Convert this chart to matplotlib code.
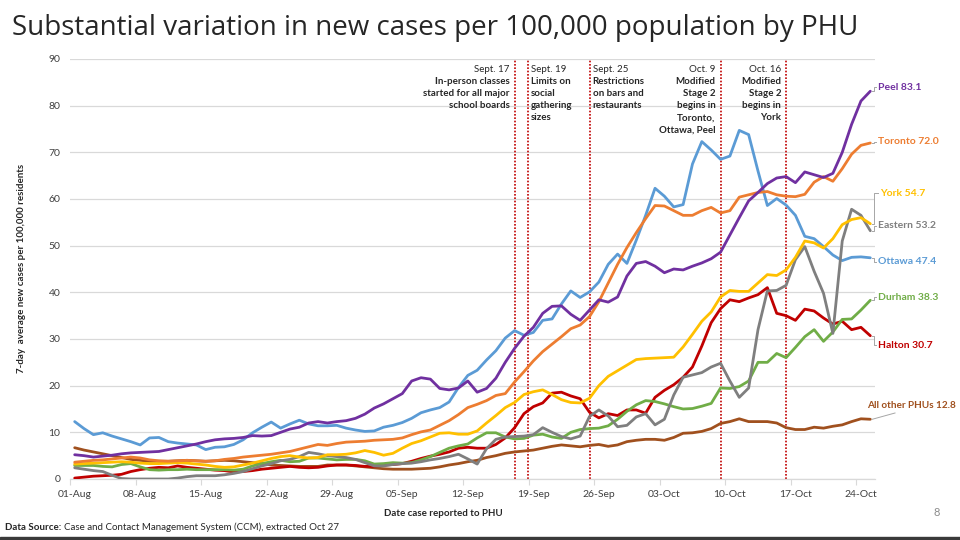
import numpy as np
import matplotlib
matplotlib.use("Agg")
import matplotlib.pyplot as plt
from matplotlib.lines import Line2D
from matplotlib.patches import Rectangle

# ---------------- data ----------------
# day index 0 = 01-Aug ... 85 = 25-Oct (daily 7-day averages)
tick_labels = ["01-Aug", "08-Aug", "15-Aug", "22-Aug", "29-Aug", "05-Sep", "12-Sep",
               "19-Sep", "26-Sep", "03-Oct", "10-Oct", "17-Oct", "24-Oct"]
tick_days = [0, 7, 14, 21, 28, 35, 42, 49, 56, 63, 70, 77, 84]

peel = [5.2, 5.0, 4.7, 4.9, 5.1, 5.4, 5.6, 5.7, 5.8, 5.9, 6.3, 6.7, 7.1, 7.5, 8.0, 8.4,
        8.6, 8.7, 8.9, 9.3, 9.2, 9.3, 10.0, 10.7, 11.1, 12.0, 12.3, 12.0, 12.3, 12.5, 13.0,
        13.9, 15.2, 16.1, 17.2, 18.3, 21.0, 21.7, 21.4, 19.4, 19.1, 19.5, 21.0, 18.6, 19.4,
        21.6, 25.0, 28.0, 30.6, 32.5, 35.5, 37.0, 37.1, 35.3, 34.0, 36.2, 38.4, 37.9, 39.0,
        43.5, 46.2, 46.6, 45.6, 44.2, 45.0, 44.8, 45.6, 46.3, 47.2, 48.6, 52.3, 56.0, 59.6,
        61.4, 63.3, 64.5, 64.8, 63.5, 65.8, 65.2, 64.6, 65.5, 70.0, 76.0, 81.0, 83.1]
toronto = [3.6, 3.8, 4.0, 4.1, 4.3, 4.5, 4.7, 4.5, 4.1, 3.9, 3.8, 3.9, 4.0, 3.9, 3.8, 3.9,
           4.2, 4.4, 4.7, 4.9, 5.1, 5.3, 5.6, 5.9, 6.4, 6.9, 7.4, 7.2, 7.6, 7.9, 8.0, 8.1,
           8.3, 8.4, 8.5, 8.8, 9.5, 10.1, 10.5, 11.5, 12.5, 13.8, 15.3, 16.0, 16.8, 17.9,
           18.3, 20.8, 23.0, 25.3, 27.3, 28.9, 30.5, 32.2, 33.0, 34.8, 38.0, 42.0, 46.0,
           49.6, 52.8, 55.8, 58.6, 58.5, 57.5, 56.5, 56.5, 57.5, 58.2, 57.0, 57.5, 60.4,
           60.9, 61.4, 61.6, 60.9, 60.6, 60.5, 61.0, 63.6, 64.8, 63.8, 66.5, 69.6, 71.5, 72.0]
york = [3.2, 3.3, 3.4, 3.5, 3.6, 3.7, 3.6, 3.4, 3.3, 3.3, 3.4, 3.5, 3.4, 3.2, 3.0, 2.7,
        2.5, 2.6, 3.0, 3.4, 3.9, 4.4, 4.8, 5.0, 4.7, 4.5, 4.6, 5.2, 5.2, 5.3, 5.6, 6.1,
        5.7, 5.1, 5.5, 6.6, 7.6, 8.2, 9.0, 9.8, 9.9, 9.6, 9.6, 10.3, 12.0, 13.6, 15.3,
        16.4, 18.1, 18.7, 19.1, 18.1, 17.0, 16.4, 16.3, 17.3, 20.0, 22.0, 23.2, 24.4,
        25.6, 25.8, 25.9, 26.0, 26.1, 28.3, 31.0, 33.8, 35.8, 39.0, 40.4, 40.2, 40.2,
        42.0, 43.8, 43.6, 44.8, 47.5, 51.0, 50.6, 49.5, 51.5, 54.5, 55.6, 56.0, 54.7]
eastern = [2.4, 2.1, 1.8, 1.6, 0.8, 0.1, 0.0, 0.0, 0.0, 0.0, 0.0, 0.2, 0.5, 0.7, 0.7, 0.7,
           0.9, 1.2, 1.6, 2.2, 2.8, 3.3, 3.9, 4.2, 4.8, 5.7, 5.4, 5.0, 4.8, 4.6, 4.2, 3.5,
           2.8, 2.8, 3.1, 3.3, 3.4, 3.7, 4.1, 4.4, 4.8, 5.3, 4.3, 3.2, 6.5, 8.5, 9.0, 9.1,
           9.2, 9.5, 11.0, 10.0, 9.1, 8.6, 9.2, 13.4, 14.8, 13.5, 11.2, 11.5, 13.3, 14.0,
           11.6, 12.8, 18.0, 21.8, 22.3, 22.8, 24.0, 24.8, 21.0, 17.5, 19.5, 32.0, 40.3,
           40.4, 41.5, 47.0, 49.8, 44.5, 39.8, 31.2, 51.0, 57.8, 56.5, 53.2]
ottawa = [12.3, 10.8, 9.5, 9.9, 9.2, 8.6, 8.0, 7.3, 8.8, 8.9, 8.0, 7.7, 7.5, 7.3, 6.3, 6.8,
          6.9, 7.4, 8.4, 9.9, 11.1, 12.2, 10.9, 11.8, 12.6, 11.8, 11.4, 11.4, 11.5, 10.9,
          10.5, 10.2, 10.3, 11.1, 11.5, 12.1, 13.0, 14.2, 14.8, 15.3, 16.5, 19.6, 22.2,
          23.3, 25.5, 27.5, 30.2, 31.8, 30.8, 31.4, 34.0, 34.3, 37.5, 40.3, 38.9, 40.1,
          42.2, 46.0, 48.2, 46.2, 51.2, 56.5, 62.3, 60.6, 58.3, 58.8, 67.5, 72.3, 70.5,
          68.5, 69.2, 74.7, 73.8, 66.0, 58.6, 60.1, 58.7, 56.5, 52.0, 51.5, 49.8, 48.0,
          46.8, 47.5, 47.6, 47.4]
durham = [2.9, 2.9, 2.9, 2.7, 2.6, 3.1, 3.3, 2.6, 2.0, 1.9, 2.0, 2.0, 2.1, 2.0, 2.0, 2.0,
          2.0, 1.9, 2.1, 2.8, 3.3, 3.7, 4.0, 3.7, 3.8, 4.5, 4.5, 4.3, 4.1, 4.2, 4.2, 3.9,
          3.2, 3.3, 3.5, 3.4, 3.5, 4.1, 4.8, 5.7, 6.6, 7.1, 7.5, 8.8, 9.9, 9.9, 9.0, 8.6,
          8.7, 9.4, 9.6, 9.0, 8.7, 10.0, 10.6, 10.8, 10.9, 11.4, 12.8, 14.5, 15.9, 16.8,
          16.6, 16.1, 15.5, 15.0, 15.1, 15.6, 16.2, 19.5, 19.4, 19.8, 21.0, 25.0, 25.0,
          26.9, 26.0, 28.2, 30.5, 32.0, 29.5, 31.5, 34.2, 34.3, 36.2, 38.3]
halton = [0.2, 0.4, 0.6, 0.7, 0.8, 1.0, 1.6, 2.0, 2.3, 2.5, 2.4, 2.8, 2.5, 2.3, 2.1, 1.9,
          1.8, 1.5, 1.6, 1.8, 2.1, 2.3, 2.5, 2.7, 2.5, 2.4, 2.5, 2.8, 3.0, 3.0, 2.9, 2.7,
          2.7, 3.0, 3.1, 3.3, 3.8, 4.4, 4.9, 5.3, 5.8, 6.6, 6.8, 6.6, 6.6, 7.4, 8.8, 11.0,
          14.0, 15.5, 16.3, 18.4, 18.6, 17.8, 17.2, 14.3, 13.1, 14.0, 13.6, 14.8, 14.8,
          14.1, 17.5, 19.0, 20.2, 21.8, 24.0, 28.5, 33.5, 36.5, 38.4, 38.0, 38.8, 39.5,
          41.0, 35.5, 35.0, 34.0, 36.4, 36.0, 34.5, 33.2, 33.8, 32.0, 32.5, 30.7]
all_other = [6.7, 6.2, 5.8, 5.4, 5.0, 4.6, 4.2, 4.0, 3.8, 3.8, 3.8, 3.9, 4.0, 3.9, 3.8, 3.9,
             4.0, 3.9, 3.7, 3.5, 3.3, 3.0, 2.9, 2.8, 2.7, 2.7, 2.7, 3.0, 3.0, 3.0, 2.8, 2.6,
             2.4, 2.2, 2.1, 2.1, 2.1, 2.2, 2.3, 2.6, 3.0, 3.3, 3.7, 4.0, 4.6, 5.0, 5.5, 5.8,
             6.0, 6.2, 6.6, 7.0, 7.3, 7.1, 6.9, 7.2, 7.4, 7.0, 7.3, 8.0, 8.3, 8.5, 8.5, 8.3,
             8.9, 9.8, 9.9, 10.2, 10.8, 11.9, 12.3, 12.9, 12.3, 12.3, 12.3, 12.0, 11.0, 10.6,
             10.6, 11.1, 10.9, 11.3, 11.6, 12.3, 12.9, 12.8]

series_names = ["All other PHUs", "Halton", "Durham", "Ottawa", "Eastern", "York", "Toronto", "Peel"]
series_values = [all_other, halton, durham, ottawa, eastern, york, toronto, peel]
series_colors = ["#A0501E", "#C00000", "#70AD47", "#5B9BD5", "#7F7F7F", "#FFC000", "#ED7D31", "#7030A0"]
label_colors = ["#A0501E", "#C00000", "#70AD47", "#5B9BD5", "#7F7F7F", "#FFC000", "#ED7D31", "#7030A0"]

event_days = [47, 48.4, 55, 69, 76]
event_dates = ["Sept. 17", "Sept. 19", "Sept. 25", "Oct. 9", "Oct. 16"]
event_texts = ["In-person classes\nstarted for all major\nschool boards",
               "Limits on\nsocial\ngathering\nsizes",
               "Restrictions\non bars and\nrestaurants",
               "Modified\nStage 2\nbegins in\nToronto,\nOttawa, Peel",
               "Modified\nStage 2\nbegins in\nYork"]
event_side = ["left", "right", "right", "left", "left"]

# ---------------- figure ----------------
W, H = 960, 540
FONT = ["Lato", "DejaVu Sans"]
plt.rcParams["font.family"] = FONT

fig = plt.figure(figsize=(W / 100, H / 100), dpi=100)
fig.patch.set_facecolor("white")


def fx(px):
    return px / W


def fy(py):
    return 1 - py / H


ax = fig.add_axes([fx(70), fy(479), (875 - 70) / W, (479 - 59) / H])
days = np.arange(len(peel))

for name, vals, col in zip(series_names, series_values, series_colors):
    ax.plot(days, vals, color=col, lw=2.0, solid_joinstyle="round", solid_capstyle="round", zorder=3)

ax.set_xlim(-0.5, 85.5)
ax.set_ylim(0, 90)
ax.set_yticks(range(0, 91, 10))
ax.yaxis.grid(True, color="#D9D9D9", lw=0.9)
ax.set_axisbelow(True)
for s in ["top", "right", "left"]:
    ax.spines[s].set_visible(False)
ax.spines["bottom"].set_color("#D9D9D9")
ax.spines["bottom"].set_linewidth(0.9)
ax.tick_params(axis="y", length=0, pad=7, labelsize=7.5, labelcolor="#404040")

ax.set_xticks(tick_days)
ax.set_xticklabels(tick_labels)
ax.set_xticks([d - 0.5 for d in tick_days], minor=True)
ax.tick_params(axis="x", which="major", length=0, pad=8, labelsize=7.5, labelcolor="#404040")
ax.tick_params(axis="x", which="minor", length=4, width=0.8, color="#D9D9D9")

# event lines and annotations
for d, dt, tx, side in zip(event_days, event_dates, event_texts, event_side):
    ax.axvline(d, color="#C00000", lw=1.2, ls=(0, (1, 1)), zorder=2)
    if side == "left":
        off, ha = -5, "right"
    else:
        off, ha = 3, "left"
    ax.annotate(dt, xy=(d, 90), xytext=(off, -11), textcoords="offset pixels",
                ha=ha, va="center", fontsize=7, color="#262626")
    ax.annotate(tx, xy=(d, 90), xytext=(off, -18), textcoords="offset pixels",
                ha=ha, va="top", fontsize=7, fontweight="bold", color="#262626",
                linespacing=1.45)

# end labels
label_y = {"Peel": 87, "Toronto": 142, "York": 193, "Eastern": 226, "Ottawa": 262,
           "Durham": 297, "Halton": 345}
fig.canvas.draw()
to_fig = ax.transData + fig.transFigure.inverted()
for name, vals, col in zip(series_names, series_values, label_colors):
    ex, ey = to_fig.transform((days[-1], vals[-1]))
    txt = f"{name} {vals[-1]:.1f}"
    if name == "All other PHUs":
        fig.text(fx(867), fy(406), txt, ha="left", va="center", fontsize=7.2,
                 fontweight="bold", color=col)
        fig.add_artist(Line2D([ex + fx(2), fx(895)], [ey, fy(413)], color="#A6A6A6", lw=0.7,
                              transform=fig.transFigure))
        continue
    ly = label_y[name]
    lx = 880 if name == "York" else 878
    fig.text(fx(lx), fy(ly), txt, ha="left", va="center", fontsize=7.5,
             fontweight="bold", color=col)
    fig.add_artist(Line2D([ex + fx(2), fx(874), fx(874), fx(lx - 2)],
                          [ey, ey, fy(ly), fy(ly)], color="#A6A6A6", lw=0.7,
                          transform=fig.transFigure))

# titles & axis labels
fig.text(fx(12), fy(28), "Substantial variation in new cases per 100,000 population by PHU",
         ha="left", va="center", fontsize=20, color="#262626", family=["Open Sans", "DejaVu Sans"])
fig.text(fx(22), fy(268), "7-day  average new cases per 100,000 residents", rotation=90,
         ha="center", va="center", fontsize=7, fontweight="bold", color="#262626")
fig.text(fx(443), fy(513), "Date case reported to PHU", ha="center", va="center",
         fontsize=7, fontweight="bold", color="#262626")
src_bold = fig.text(fx(5), fy(527), "Data Source:", ha="left", va="center", fontsize=7,
                    fontweight="bold", color="#262626")
fig.canvas.draw()
bb = src_bold.get_window_extent(fig.canvas.get_renderer())
fig.text((bb.x1 + 3) / W, fy(527), "Case and Contact Management System (CCM), extracted Oct 27",
         ha="left", va="center", fontsize=7, color="#262626")
fig.text(fx(937), fy(513), "8", ha="center", va="center", fontsize=8, color="#8C8C8C")
fig.add_artist(Rectangle((0, 0), 1, 3 / H, transform=fig.transFigure, color="#3A3A3A"))

fig.savefig("out.png", dpi=100)
